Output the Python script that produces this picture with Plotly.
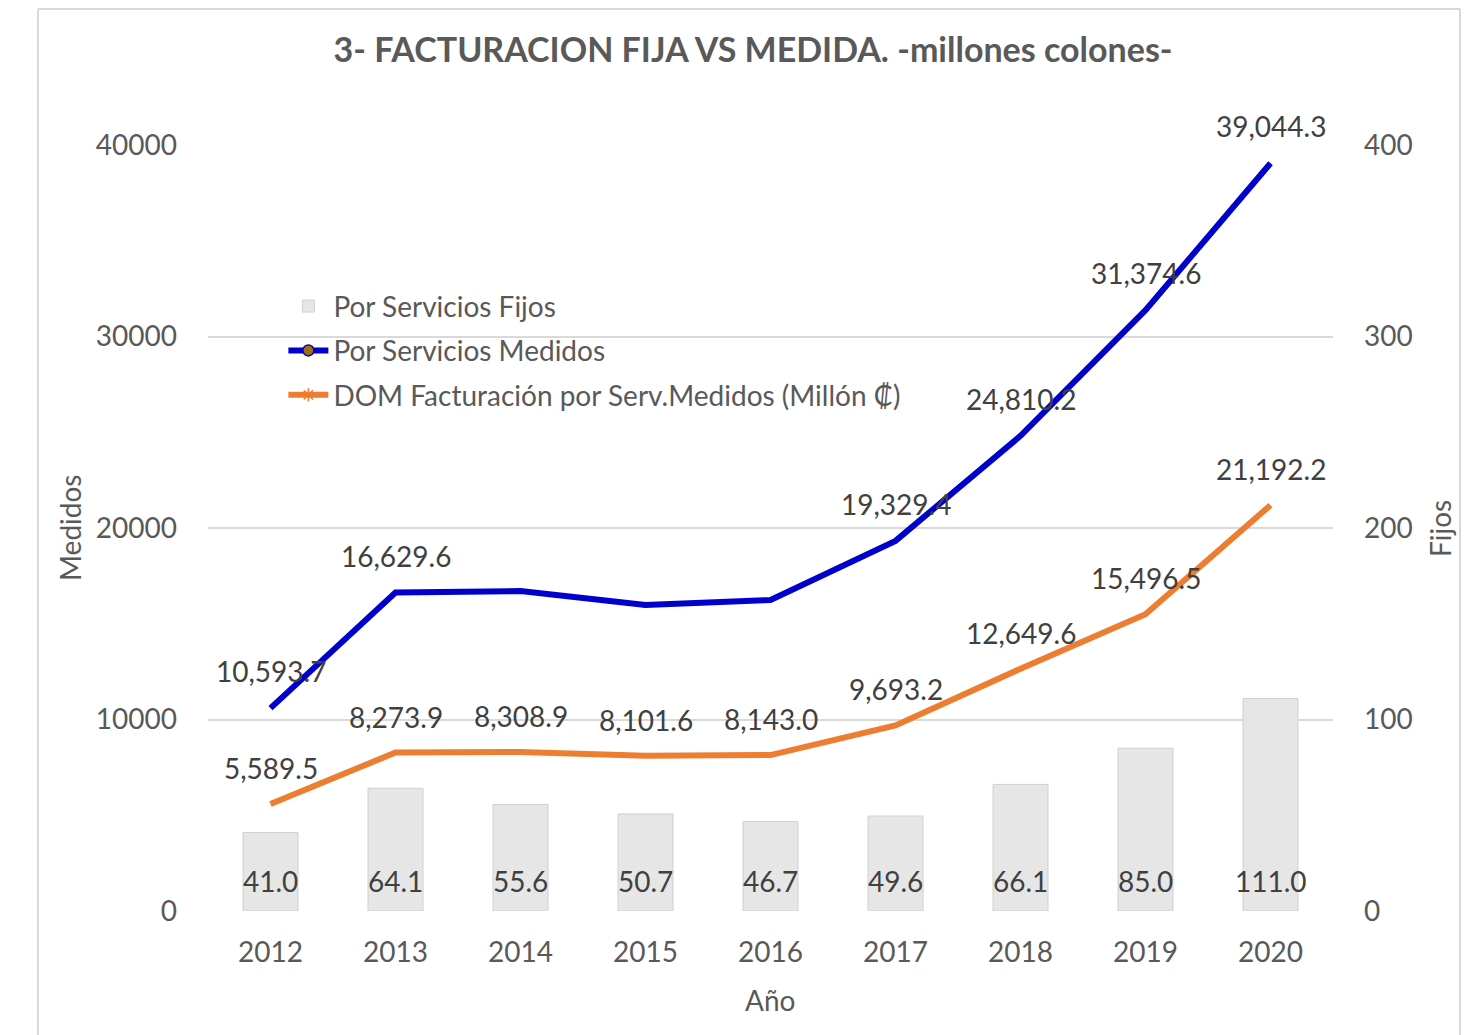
import plotly.graph_objects as go

years = ["2012", "2013", "2014", "2015", "2016", "2017", "2018", "2019", "2020"]
fijos = [41.0, 64.1, 55.6, 50.7, 46.7, 49.6, 66.1, 85.0, 111.0]
medidos = [10593.7, 16629.6, 16710.0, 15980.0, 16240.0, 19329.4, 24810.2, 31374.6, 39044.3]
medidos_labeled = [True, True, False, False, False, True, True, True, True]
dom = [5589.5, 8273.9, 8308.9, 8101.6, 8143.0, 9693.2, 12649.6, 15496.5, 21192.2]

FONT = "Lato"
BLUE = "#0000CC"
ORANGE = "#ED7D31"
BAR = "#E7E6E6"
TXT = "#595959"
LBL = "#404040"
FS = 28

fig = go.Figure()

fig.add_trace(go.Bar(x=years, y=fijos, name="Por Servicios Fijos",
                     marker=dict(color=BAR, line=dict(color="#D0D0D0", width=1)),
                     width=0.44, yaxis="y", legendgroup="a"))
fig.add_trace(go.Scatter(x=years, y=medidos, mode="lines", line=dict(color=BLUE, width=6), yaxis="y2",
                         showlegend=False, hoverinfo="y", legendgroup="b"))
fig.add_trace(go.Scatter(x=years, y=dom, mode="lines", line=dict(color=ORANGE, width=6), yaxis="y2",
                         showlegend=False, hoverinfo="y", legendgroup="c"))
fig.add_trace(go.Scatter(x=[None], y=[None], mode="lines+markers", name="Por Servicios Medidos", yaxis="y2",
                         line=dict(color=BLUE, width=6),
                         marker=dict(symbol="circle", size=11, color="#A0700A", line=dict(color=BLUE, width=1.5)),
                         legendgroup="b"))
fig.add_trace(go.Scatter(x=[None], y=[None], mode="lines+markers", name="DOM Facturación por Serv.Medidos (Millón ₡)",
                         yaxis="y2", line=dict(color=ORANGE, width=6),
                         marker=dict(symbol="asterisk", size=11, color=ORANGE, line=dict(color=ORANGE, width=1.5)),
                         legendgroup="c"))

annotations = []
for i, (v, show) in enumerate(zip(medidos, medidos_labeled)):
    if show:
        annotations.append(dict(x=i, y=v, xref="x", yref="y2", text=f"{v:,.1f}", showarrow=False,
                                xanchor="center", yanchor="middle",
                                yshift=37, font=dict(family=FONT, size=FS, color=LBL)))
for i, v in enumerate(dom):
    annotations.append(dict(x=i, y=v, xref="x", yref="y2", text=f"{v:,.1f}", showarrow=False,
                            xanchor="center", yanchor="middle",
                            yshift=36, font=dict(family=FONT, size=FS, color=LBL)))
for i, v in enumerate(fijos):
    annotations.append(dict(x=i, y=0, xref="x", yref="y", text=f"{v:.1f}", showarrow=False,
                            xanchor="center", yanchor="middle",
                            yshift=30, font=dict(family=FONT, size=FS, color=LBL)))

annotations.append(dict(x=-0.1227, y=0.5, xref="paper", yref="paper", text="Medidos", textangle=-90,
                        showarrow=False, xanchor="center", yanchor="middle",
                        font=dict(family=FONT, size=FS, color=TXT)))
annotations.append(dict(x=1.0951, y=0.5, xref="paper", yref="paper", text="Fijos", textangle=-90,
                        showarrow=False, xanchor="center", yanchor="middle",
                        font=dict(family=FONT, size=FS, color=TXT)))
annotations.append(dict(x=0.4996, y=-0.116, xref="paper", yref="paper", text="Año", showarrow=False,
                        xanchor="center", yanchor="middle",
                        font=dict(family=FONT, size=FS, color=TXT)))

fig.update_layout(
    width=1462, height=1027,
    margin=dict(l=200, r=137, t=137, b=124),
    paper_bgcolor="white", plot_bgcolor="white",
    font=dict(family=FONT, size=FS, color=TXT),
    title=dict(text="<b>3- FACTURACION FIJA VS MEDIDA. -millones colones-</b>", x=745 / 1462, xanchor="center",
               y=1 - 42 / 1027, yanchor="middle", font=dict(family=FONT, size=34, color=TXT)),
    xaxis=dict(type="category", range=[-0.5, 8.5], showgrid=False, showline=False, zeroline=False,
               ticks="", ticklabelstandoff=22, tickfont=dict(family=FONT, size=FS, color=TXT)),
    yaxis=dict(side="right", range=[0, 400], tickvals=[0, 100, 200, 300, 400], showgrid=True,
               gridcolor="#D9D9D9", gridwidth=2, zeroline=False, showline=False, ticks="",
               ticklabelstandoff=30, tickfont=dict(family=FONT, size=FS, color=TXT)),
    yaxis2=dict(side="left", overlaying="y", range=[0, 40000], tickvals=[0, 10000, 20000, 30000, 40000],
                tickformat="d", showgrid=False, zeroline=False, showline=False, ticks="",
                ticklabelstandoff=30, tickfont=dict(family=FONT, size=FS, color=TXT)),
    legend=dict(x=0.067, y=0.822, xanchor="left", yanchor="top", bgcolor="rgba(0,0,0,0)",
                font=dict(family=FONT, size=FS, color=TXT), tracegroupgap=5, traceorder="grouped",
                itemwidth=40),
    annotations=annotations,
    shapes=[
        dict(type="line", xref="paper", yref="paper", x0=-0.1511, x1=-0.1511, y0=1.1775, y1=-0.25,
             line=dict(color="#D9D9D9", width=2)),
        dict(type="line", xref="paper", yref="paper", x0=-0.1511, x1=1.1129, y0=1.1775, y1=1.1775,
             line=dict(color="#D9D9D9", width=2)),
        dict(type="line", xref="paper", yref="paper", x0=1.1129, x1=1.1129, y0=1.1775, y1=-0.25,
             line=dict(color="#D9D9D9", width=2)),
    ],
)

fig.write_html("out.html")
